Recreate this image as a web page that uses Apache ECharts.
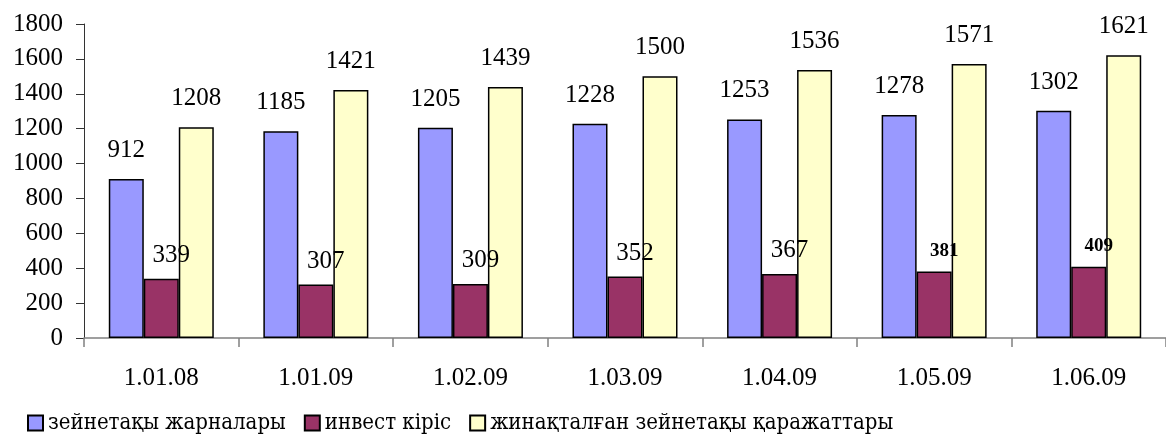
<!DOCTYPE html>
<html>
<head>
<meta charset="utf-8">
<script src="https://cdn.jsdelivr.net/npm/echarts@6/dist/echarts.min.js"></script>
<style>
  html, body { margin: 0; padding: 0; background: #fff; }
  #chart { width: 1166px; height: 434px; }
</style>
</head>
<body>
<div id="chart"></div>
<script>
// dates of the readings
let categories = ['1.01.08', '1.01.09', '1.02.09', '1.03.09', '1.04.09', '1.05.09', '1.06.09'];
let contributions = [912, 1185, 1205, 1228, 1253, 1278, 1302];
let investIncome = [339, 307, 309, 352, 367, 381, 409];
let savings = [1208, 1421, 1439, 1500, 1536, 1571, 1621];
let seriesNames = ['зейнетақы жарналары', 'инвест кіріс', 'жинақталған зейнетақы қаражаттары'];
let yTicks = { min: 0, max: 1800, step: 200 };

let fontFamily = 'Liberation Serif';
// Cyrillic legend text needs a serif face that has the Kazakh letters
let legendFont = '"DejaVu Serif Condensed", "DejaVu Serif", serif';
let boldFrom = 5; // last two income labels are bold in the original

let chart = echarts.init(document.getElementById('chart'));

function barSeries(name, data, color, label) {
    return {
        name: name,
        type: 'bar',
        data: data,
        barWidth: 35,
        barGap: '0%',
        itemStyle: { color: color, borderColor: '#000', borderWidth: 1.5 },
        label: label
    };
}

let topLabel = {
    show: true,
    position: 'top',
    distance: 16,
    color: '#000',
    fontFamily: fontFamily,
    fontSize: 25
};

let option = {
    backgroundColor: '#fff',
    animation: false,
    textStyle: { fontFamily: fontFamily },
    grid: { left: 84, top: 24, right: -10, bottom: 96, containLabel: false },
    legend: {
        data: seriesNames,
        left: 22,
        top: 407,
        icon: 'rect',
        itemWidth: 15,
        itemHeight: 15,
        itemGap: 18,
        textStyle: { fontFamily: legendFont, fontSize: 22, color: '#000' }
    },
    xAxis: {
        type: 'category',
        data: categories,
        axisLine: { lineStyle: { color: '#808080', width: 1.5 } },
        axisTick: { show: true, length: 9, lineStyle: { color: '#808080', width: 1.5 } },
        axisLabel: { margin: 28, color: '#000', fontFamily: fontFamily, fontSize: 25 }
    },
    yAxis: {
        type: 'value',
        min: yTicks.min,
        max: yTicks.max,
        interval: yTicks.step,
        splitLine: { show: false },
        axisLine: { show: true, lineStyle: { color: '#333', width: 1 } },
        axisTick: { show: true, length: 8, lineStyle: { color: '#333', width: 1 } },
        axisLabel: {
            margin: 21, color: '#000', fontFamily: fontFamily, fontSize: 25,
            formatter: function (v) { return String(v); }
        }
    },
    series: [
        barSeries(seriesNames[0], contributions, '#9999FF', topLabel),
        barSeries(seriesNames[1], investIncome, '#993366', {
            show: true,
            position: 'top',
            distance: 11,
            offset: [10, 0],
            color: '#000',
            fontFamily: fontFamily,
            fontSize: 25,
            formatter: function (p) {
                return p.dataIndex >= boldFrom ? '{b|' + p.value + '}' : String(p.value);
            },
            rich: {
                b: { fontFamily: fontFamily, fontSize: 19, fontWeight: 'bold', color: '#000' }
            }
        }),
        barSeries(seriesNames[2], savings, '#FFFFCC', topLabel)
    ]
};

chart.setOption(option);
</script>
</body>
</html>
